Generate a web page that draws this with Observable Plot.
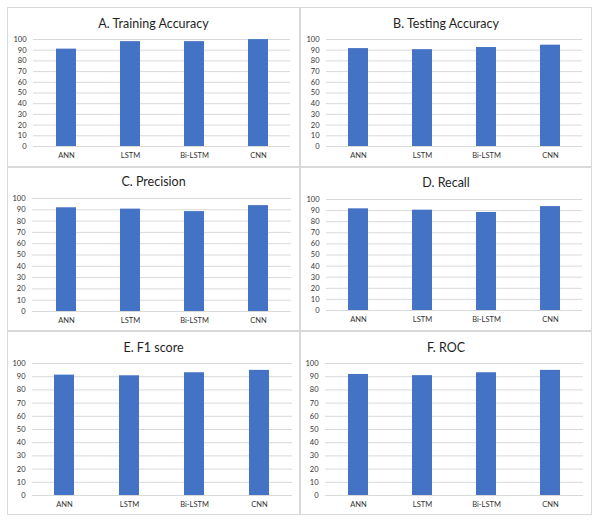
<!DOCTYPE html>
<html>
<head>
<meta charset="utf-8">
<script src="https://cdn.jsdelivr.net/npm/d3@7"></script>
<script src="https://cdn.jsdelivr.net/npm/@observablehq/plot@0.6"></script>
<style>
  body { margin: 0; background: #fff; }
  #wrap { position: relative; width: 600px; height: 524px; background: #fff; overflow: hidden; }
  .box { position: absolute; box-sizing: border-box; border: 1px solid #d9d9d9; }
  .ttl { position: absolute; transform: translate(-50%, -50%); white-space: nowrap;
         font-family: Lato, "Open Sans", sans-serif; font-size: 12.5px; color: #1f1f1f; }
  svg { position: absolute; }
</style>
</head>
<body>
<div id="wrap"></div>
<script>
const models = ["ANN", "LSTM", "Bi-LSTM", "CNN"];
const trainingAccuracy = [91, 98, 98, 99.9];
const testingAccuracy = [91.5, 90.5, 92.5, 94.7];
const precision = [91.8, 90.6, 88.4, 93.7];
const recall = [91.6, 90.4, 88.3, 93.6];
const f1Score = [91.2, 90.7, 93, 94.8];
const roc = [91.7, 90.8, 93, 94.8];
const yTicks = [0, 10, 20, 30, 40, 50, 60, 70, 80, 90, 100];
const panelTitles = ["A. Training Accuracy", "B. Testing Accuracy", "C. Precision", "D. Recall", "E. F1 score", "F. ROC"];
const panelValues = [trainingAccuracy, testingAccuracy, precision, recall, f1Score, roc];

// layout: box [x, y, w, h], plot [xLeft, xRight, yTop(100), yBottom(0)], title y
const layout = [
  {box: [7, 7, 293, 160], plot: [33, 290, 39, 146], ty: 23},
  {box: [300, 7, 292, 160], plot: [326, 582, 39, 146], ty: 23},
  {box: [7, 167, 293, 164], plot: [32, 291, 198, 311], ty: 181},
  {box: [300, 167, 292, 164], plot: [326, 582, 199, 310], ty: 182},
  {box: [7, 331, 293, 184], plot: [32, 292, 363, 495], ty: 347},
  {box: [300, 331, 292, 184], plot: [325, 583, 363, 495], ty: 347}
];

const wrap = document.getElementById("wrap");

layout.forEach((L, i) => {
  const [bx, by, bw, bh] = L.box;
  const [px0, px1, py1, py0] = L.plot;
  const box = document.createElement("div");
  box.className = "box";
  Object.assign(box.style, {left: bx + "px", top: by + "px", width: bw + "px", height: bh + "px"});
  wrap.appendChild(box);

  const data = models.map((m, j) => ({model: m, value: panelValues[i][j]}));
  const svg = Plot.plot({
    width: bw,
    height: bh,
    marginLeft: px0 - bx,
    marginRight: bx + bw - px1,
    marginTop: py1 - by,
    marginBottom: by + bh - py0,
    style: {fontFamily: "Lato, 'Open Sans', sans-serif", fontSize: "7.5px", color: "#333", background: "transparent"},
    x: {domain: models, paddingInner: 0.69, paddingOuter: 0.345, label: null, tickSize: 0, tickPadding: 6},
    y: {domain: [0, 100], ticks: yTicks, label: null, tickSize: 0, tickPadding: 7},
    marks: [
      Plot.ruleY(yTicks, {stroke: "#d9d9d9", strokeWidth: 1}),
      Plot.barY(data, {x: "model", y: "value", fill: "#4472c4"}),
      Plot.axisX({tickSize: 0, tickPadding: 6, fill: "#333"}),
      Plot.axisY({ticks: yTicks, tickSize: 0, tickPadding: 7, fill: "#333"})
    ]
  });
  svg.style.left = bx + "px";
  svg.style.top = by + "px";
  wrap.appendChild(svg);

  const t = document.createElement("div");
  t.className = "ttl";
  t.textContent = panelTitles[i];
  t.style.left = (bx + bw / 2) + "px";
  t.style.top = L.ty + "px";
  wrap.appendChild(t);
});
</script>
</body>
</html>
